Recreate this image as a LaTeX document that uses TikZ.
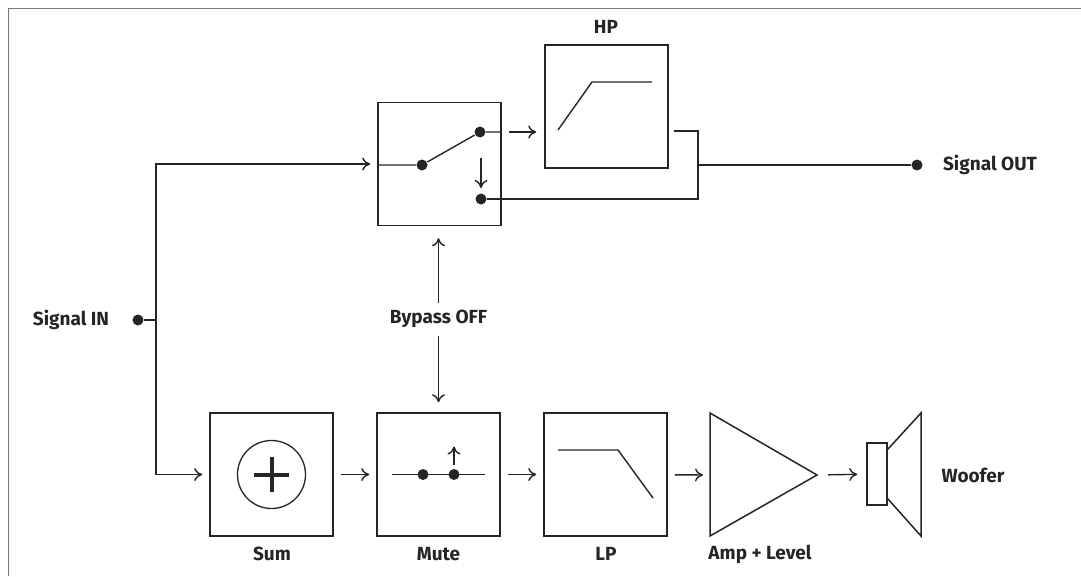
\documentclass[tikz,border=0pt]{standalone}
\usepackage{fontspec}
\setmainfont{Fira Sans}
\usetikzlibrary{arrows.meta,positioning}
\definecolor{ink}{RGB}{38,36,37}
\definecolor{rule}{RGB}{120,120,120}
\tikzset{
  block/.style={draw=ink, line width=1.5pt, minimum size=123pt, inner sep=0pt},
  lbl/.style={font=\fontsize{19}{21}\selectfont\bfseries, text=ink},
  dot/.style={circle, fill=ink, inner sep=0pt, minimum size=11pt},
  >={To[length=8pt,width=13pt]},
}

\begin{document}
\begin{tikzpicture}[x=1pt,y=-1pt,line width=1.4pt,ink]
                \useasboundingbox (0,0) rectangle (1081,576);
                \draw[rule,line width=1pt] (8,576)--(8,8)--(1081,8);
                % blocks
                \node[block] (switch) at (439.5,164) {};
                \node[block] (hp) at (606.5,106.5) {};
                \node[block] (sum) at (271.5,474.5) {};
                \node[block] (mute) at (438.5,474.5) {};
                \node[block] (lp) at (605.5,474.5) {};
                \draw[line width=1.5pt] (710,413)--(817,475)--(710,536)--cycle;
                \coordinate (ampin) at (710,475);
                \coordinate (ampout) at (817,475);
                \node[draw,line width=1.5pt,minimum width=20pt,minimum height=62pt,inner sep=0pt] (woofer) at (877,474) {};
                \draw[line width=1.5pt] ([yshift=-7pt]woofer.north east)--(921,413)--(921,536)--([yshift=7pt]woofer.south east);
                % input
                \node[dot] (in) at (138,320) {};
                \node[lbl] (inlbl) at (71,320) {Signal IN};
                \coordinate (jin) at (156,320);
                \draw (in)--(jin);
                \draw[->,shorten >=7pt] (jin) |- (switch.west);
                \draw[->,shorten >=7pt] (jin) |- (sum.west);
                % bypass switch
                \node[dot] (pivot) at (422,165) {};
                \node[dot] (up) at (480,132) {};
                \node[dot] (low) at (481,199) {};
                \draw (switch.west |- pivot)--(pivot)--(up)--(up -| switch.east);
                \draw[->] ([yshift=41pt]low.center)--([yshift=11pt]low.center);
                \draw[->,shorten <=7pt,shorten >=8pt] (up -| switch.east)--(up -| hp.west);
                % high pass
                \draw ([shift={(-48.5,23.5)}]hp.center)--([shift={(-14.5,-24.5)}]hp.center)--([shift={(45.5,-24.5)}]hp.center);
                \node[lbl] (hplbl) at (606,27) {HP};
                \coordinate (hpout) at (674,131);
                \coordinate (jout) at (698,165);
                \draw (hpout) -| (jout |- low)--(low);
                \node[dot] (out) at (917,165) {};
                \draw (jout)--(out);
                \node[lbl] (outlbl) at (990,165) {Signal OUT};
                % bypass control
                \node[lbl] (bypass) at (438.5,319) {Bypass OFF};
                \draw[->,shorten <=16pt,shorten >=12pt] (bypass.center)--(bypass.center |- switch.south);
                \draw[->,shorten <=17pt,shorten >=10pt] (bypass.center)--(bypass.center |- mute.north);
                % sum
                \draw[line width=1.3pt] (sum.center) circle[radius=34pt];
                \draw[line width=4pt] ([xshift=-17.5pt]sum.center)--([xshift=17.5pt]sum.center);
                \draw[line width=4pt] ([yshift=-17.5pt]sum.center)--([yshift=17.5pt]sum.center);
                % mute
                \draw ([xshift=-46.5pt]mute.center)--([xshift=46.5pt]mute.center);
                \node[dot] (mA) at (423,474.5) {};
                \node[dot] (mB) at (454,474.5) {};
                \draw[->] ([yshift=10pt]mB.center)--([yshift=28pt]mB.center);
                % low pass
                \draw ([shift={(-47.5,-24.5)}]lp.center)--([shift={(12.5,-24.5)}]lp.center)--([shift={(47.5,23.5)}]lp.center);
                % chain
                \draw[->,shorten <=7pt,shorten >=7pt] (sum)--(mute);
                \draw[->,shorten <=7pt,shorten >=7pt] (mute)--(lp);
                \draw[->,shorten <=7pt,shorten >=7pt] (lp)--(ampin);
                \draw[->,shorten <=11pt,shorten >=9pt] (ampout)--(woofer);
                % labels
                \node[lbl] (sumlbl) at (272,554) {Sum};
                \node[lbl] (mutelbl) at (438.5,554) {Mute};
                \node[lbl] (lplbl) at (606,554) {LP};
                \node[lbl] (amplbl) at (760,554) {Amp + Level};
                \node[lbl] (wooflbl) at (973,475) {Woofer};
            \end{tikzpicture}
\end{document}
